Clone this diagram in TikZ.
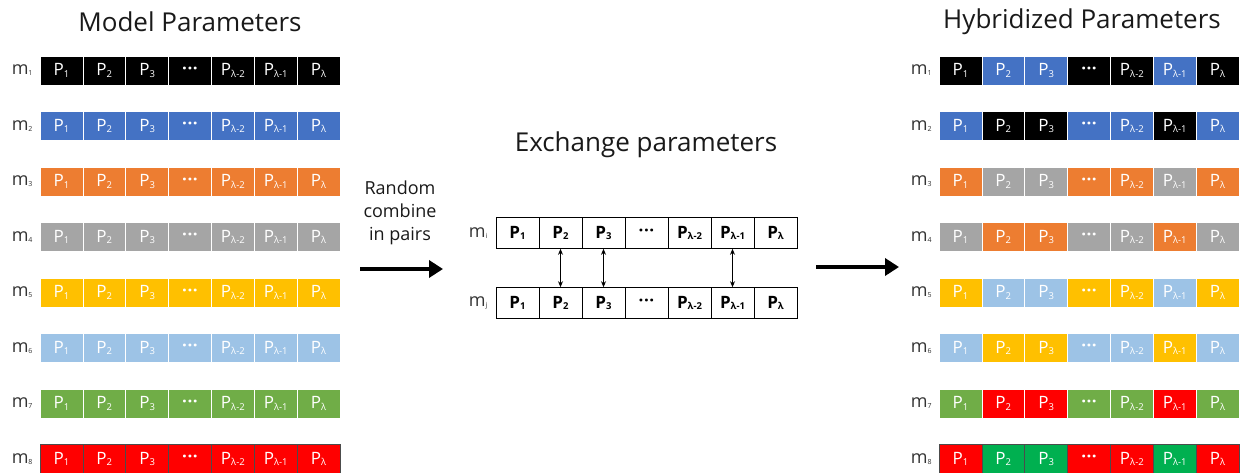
\documentclass[tikz,border=0pt]{standalone}
\usepackage{fontspec}
\setmainfont{Open Sans}
\usetikzlibrary{positioning,arrows.meta}

\definecolor{pblack}{HTML}{000000}
\definecolor{pblue}{HTML}{4472C4}
\definecolor{porange}{HTML}{ED7D31}
\definecolor{pgray}{HTML}{A5A5A5}
\definecolor{pyellow}{HTML}{FFC000}
\definecolor{plblue}{HTML}{9DC3E6}
\definecolor{pgreen}{HTML}{70AD47}
\definecolor{pred}{HTML}{FF0000}
\definecolor{pdgreen}{HTML}{00B050}

\newcommand\Pp[1]{P\raisebox{-1.5pt}{\fontsize{9.5}{9.5}\selectfont#1}}
\newcommand\mlab[1]{m\raisebox{-1pt}{\fontsize{7}{7}\selectfont#1}}
\newcommand\pdots{{\bfseries ·\kern0.5pt·\kern0.5pt·}}
\def\cells{1/\Pp{1}/0,2/\Pp{2}/1,3/\Pp{3}/1,4/\pdots/0,5/\Pp{λ-2}/0,6/\Pp{λ-1}/1,7/\Pp{λ}/0}

\tikzset{
  cell/.style={minimum width=42.86pt,minimum height=29pt,inner sep=0pt,
    text=white,font=\fontsize{17}{17}\selectfont,line width=0.6pt},
  pcell/.style={draw=black,fill=white,minimum width=43pt,minimum height=31pt,
    inner sep=0pt,line width=0.6pt,font=\fontsize{17}{17}\selectfont\bfseries},
  mlabel/.style={font=\fontsize{18}{18}\selectfont,text=black!80,inner sep=0pt},
  title/.style={font=\fontsize{26}{26}\selectfont,text=black!90},
  bigarrow/.style={-{Triangle[length=14pt,width=17pt]},line width=4pt},
  swap/.style={{Stealth[length=6pt,width=5pt]}-{Stealth[length=6pt,width=5pt]},line width=0.9pt}
}

\begin{document}
\begin{tikzpicture}[x=1pt,y=-1pt]
\useasboundingbox (0,0) rectangle (1244,472);

\node[title] (mtitle) at (190,22) {Model Parameters};
\node[title] (htitle) at (1082,22) {Hybridized Parameters};
\node[title] (etitle) at (646,145) {Exchange parameters};

% model rows and hybridized rows
\foreach \r/\c/\s/\b in {1/pblack/pblue/white,2/pblue/pblack/white,
    3/porange/pgray/white,4/pgray/porange/white,5/pyellow/plblue/white,
    6/plblue/pyellow/white,7/pgreen/pred/white,8/pred/pdgreen/black!70}{
  \foreach \k/\t/\sw in \cells{
    \ifnum\sw=1 \colorlet{hc}{\s}\else\colorlet{hc}{\c}\fi
    \node[cell,fill=\c,draw=\b] (l-\r-\k) at (40+42.86*\k-21.43,70.5+55.5*\r-55.5) {\t};
    \node[cell,fill=hc,draw=\b] (h-\r-\k) at (939+42.86*\k-21.43,70.5+55.5*\r-55.5) {\t};
  }
  \node[mlabel,left=7pt of l-\r-1] {\mlab{\r}};
  \node[mlabel,left=7pt of h-\r-1] {\mlab{\r}};
}

% exchanged pair
\foreach \k/\t/\sw in \cells{
  \node[pcell] (i-\k) at (496+43*\k-21.5,233) {\t};
  \node[pcell] (j-\k) at (496+43*\k-21.5,303) {\t};
}
\node[mlabel,left=8pt of i-1] {\mlab{i}};
\node[mlabel,left=8pt of j-1] {\mlab{j}};
\foreach \k in {2,3,6}
  \draw[swap] (i-\k) -- (j-\k);

\node[align=center,font=\fontsize{18}{23}\selectfont,text=black!90] (rnd) at (400,213) {Random\\combine\\in pairs};

\coordinate (a1) at (360,269);
\coordinate (a2) at (443,269);
\coordinate (b1) at (816,267);
\coordinate (b2) at (899,267);
\draw[bigarrow] (a1) -- (a2);
\draw[bigarrow] (b1) -- (b2);
\end{tikzpicture}
\end{document}
